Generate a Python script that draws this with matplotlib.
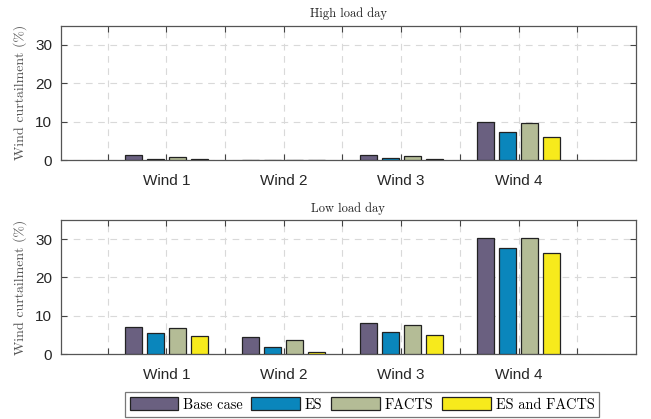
import matplotlib
matplotlib.use("Agg")
import matplotlib.pyplot as plt
import numpy as np
from matplotlib.patches import Patch

categories = ["Wind 1", "Wind 2", "Wind 3", "Wind 4"]
series = ["Base case", "ES", "FACTS", "ES and FACTS"]
high_base = [1.2, 0.08, 1.3, 9.9]
high_es = [0.3, 0.06, 0.4, 7.3]
high_facts = [0.8, 0.07, 1.1, 9.6]
high_esf = [0.2, 0.05, 0.2, 6.1]
low_base = [7.1, 4.4, 8.2, 30.4]
low_es = [5.4, 1.8, 5.8, 27.7]
low_facts = [6.8, 3.6, 7.7, 30.4]
low_esf = [4.7, 0.4, 4.9, 26.5]
titles = ["High load day", "Low load day"]
yticks = [0, 10, 20, 30]

colors = ["#6a6080", "#0a86bc", "#b4bc96", "#f7ea1c"]
serif = "cmr10"
sans = "Liberation Sans"
tickcol = "#262626"

fig = plt.figure(figsize=(6.51, 4.19), dpi=100)
W, H = 651, 419
def ax_rect(l, t, r, b):
    return [l / W, 1 - b / H, (r - l) / W, (b - t) / H]

axes = [fig.add_axes(ax_rect(60.7, 25.7, 636, 160)),
        fig.add_axes(ax_rect(60.7, 220, 636, 354))]
data = [[high_base, high_es, high_facts, high_esf],
        [low_base, low_es, low_facts, low_esf]]
x = np.arange(1, len(categories) + 1)
offsets = [-0.28, -0.093, 0.093, 0.28]
width = 0.145

for ax, d, title in zip(axes, data, titles):
    for vals, off, c in zip(d, offsets, colors):
        ax.bar(x + off, vals, width, color=c, edgecolor="#222222", linewidth=0.9, zorder=3)
    ax.set_xlim(0.1, 5.0)
    ax.set_ylim(0, 35)
    xt = np.arange(0.5, 5.0, 0.5)
    ax.set_xticks(xt)
    ax.set_xticklabels([categories[int(v) - 1] if float(v).is_integer() and 1 <= v <= 4 else "" for v in xt],
                       fontfamily=sans, fontsize=11, color=tickcol)
    ax.set_yticks(yticks)
    ax.set_yticklabels([str(v) for v in yticks], fontfamily=sans, fontsize=11, color=tickcol)
    ax.tick_params(direction="in", top=True, right=True, length=4, width=0.8, color="#444444", pad=6)
    ax.tick_params(axis="x", pad=10)
    ax.grid(True, color="#d9d9d9", linestyle=(0, (6, 5)), linewidth=0.8, zorder=0)
    for s in ax.spines.values():
        s.set_color("#555555")
        s.set_linewidth(0.9)
    ax.set_title(title, fontfamily=serif, fontsize=9, color="#222222", pad=6)
    ax.set_ylabel("Wind curtailment (%)", fontfamily=serif, fontsize=10, color="#555555", labelpad=6)

handles = [Patch(facecolor=c, edgecolor="#222222", linewidth=0.9, label=s) for c, s in zip(colors, series)]
leg = fig.legend(handles=handles, loc="center", bbox_to_anchor=(362 / W, 1 - 404.5 / H), ncol=4,
                 prop={"family": serif, "size": 10.3}, frameon=True, fancybox=False,
                 handlelength=3.4, handleheight=1.0, handletextpad=0.35, columnspacing=0.6,
                 borderpad=0.35, borderaxespad=0)
leg.get_frame().set_edgecolor("#555555")
leg.get_frame().set_linewidth(0.9)

fig.savefig("out.png", dpi=100)
